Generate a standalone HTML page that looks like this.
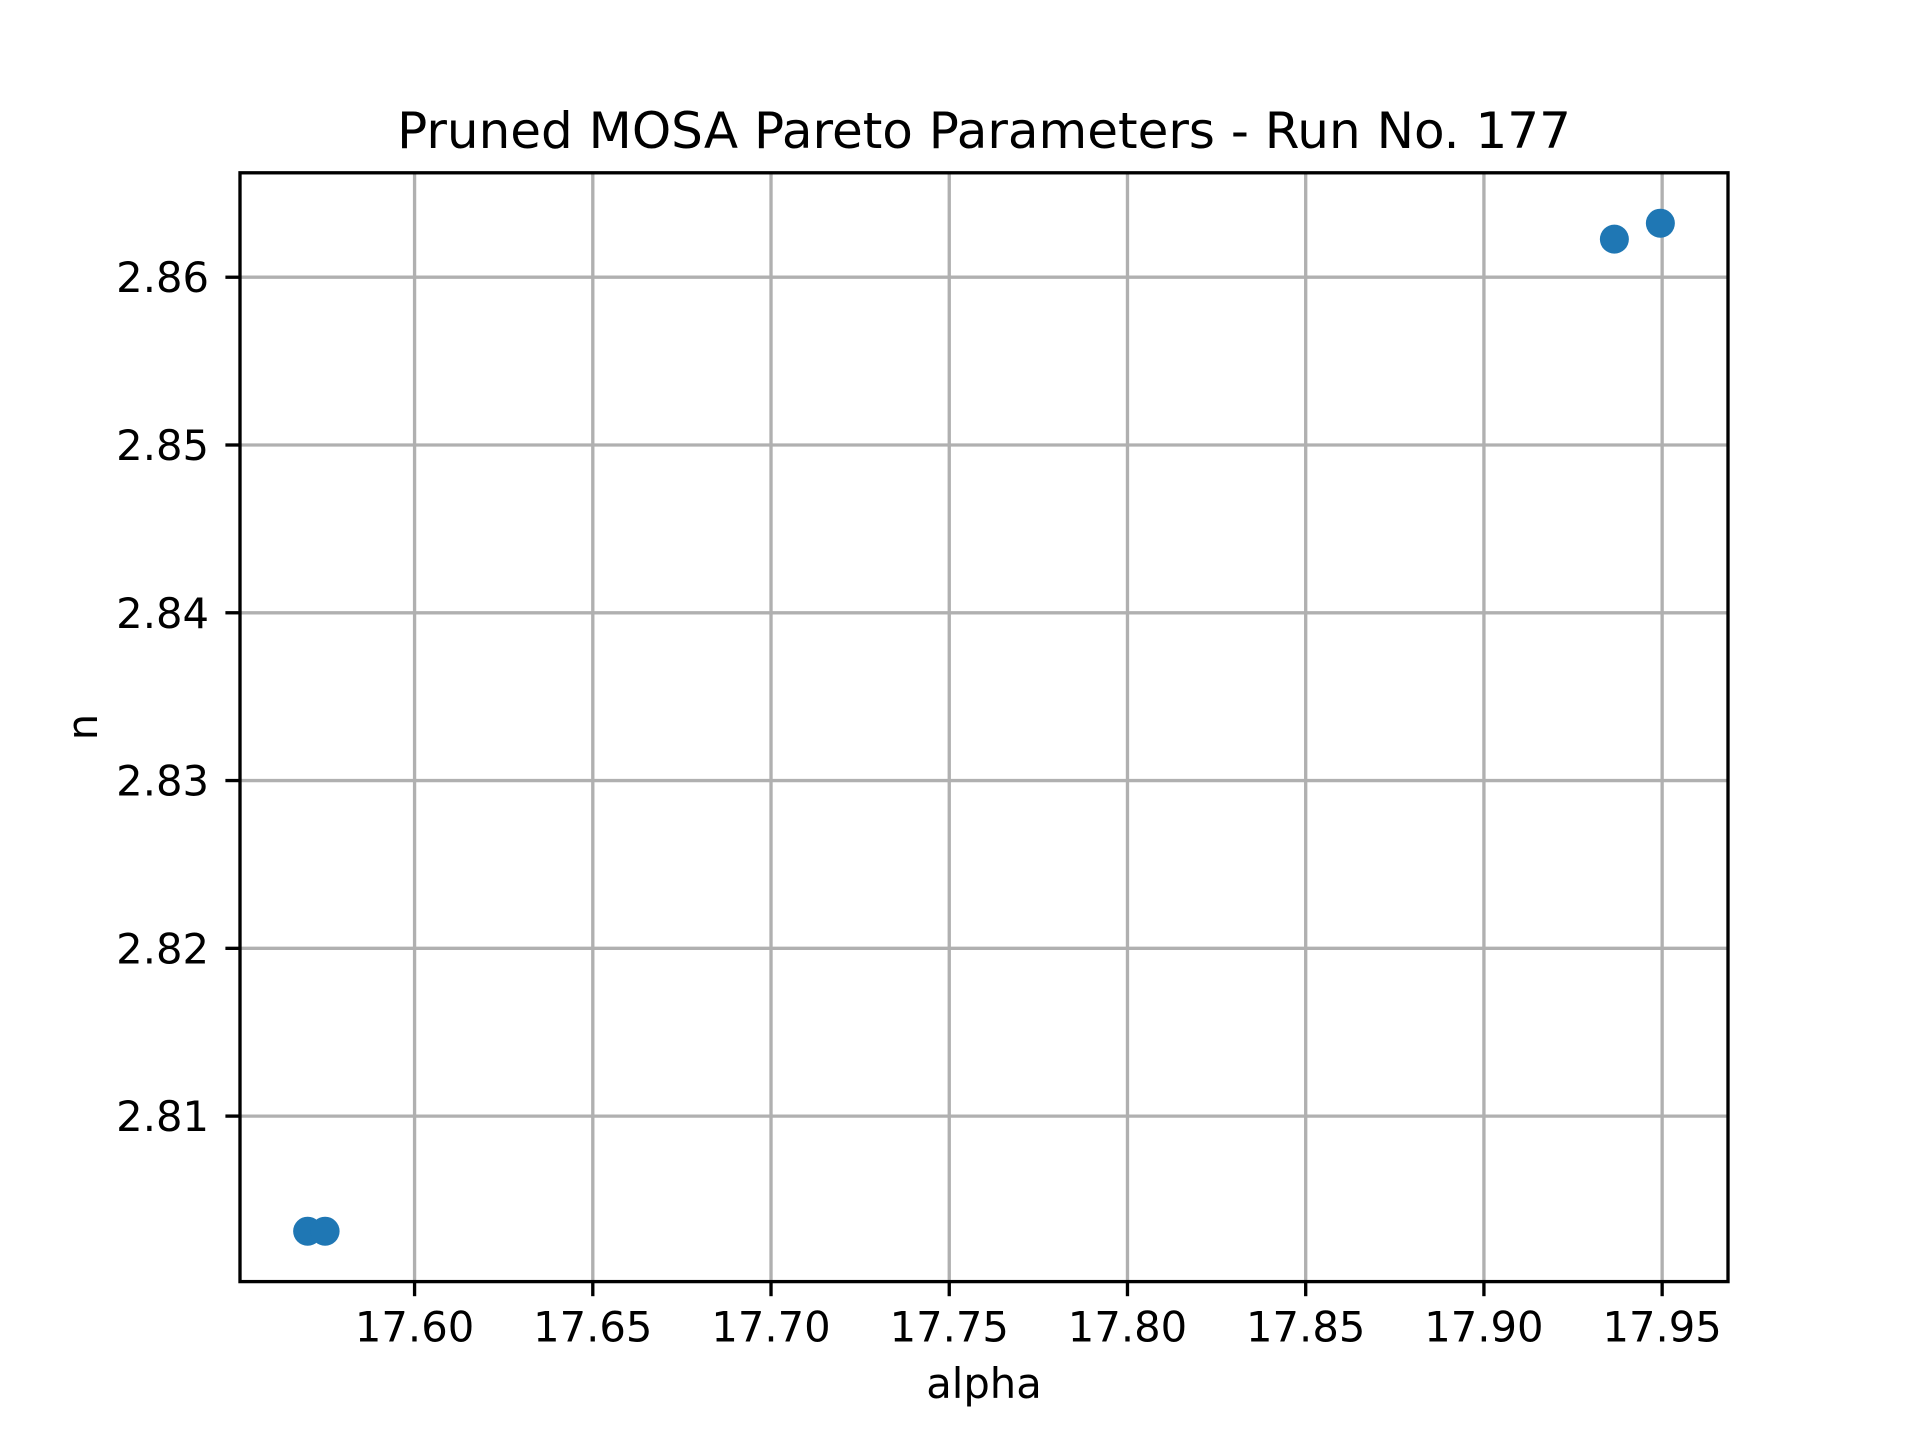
<!DOCTYPE html>
<html><head><meta charset="utf-8"><style>
html,body{margin:0;padding:0;background:#fff;}
svg{display:block;font-family:"DejaVu Sans","Liberation Sans",sans-serif;}
</style></head><body>
<svg id="chart" width="1920" height="1440" xmlns="http://www.w3.org/2000/svg">
<rect width="1920" height="1440" fill="#fff"/>
<g id="grid"></g>
<g id="ticks"></g>
<g id="points"></g>
<rect x="240" y="172.8" width="1488" height="1108.8" fill="none" stroke="#000" stroke-width="3.33"/>
<text x="984" y="148" font-size="50" text-anchor="middle">Pruned MOSA Pareto Parameters - Run No. 177</text>
<text x="984" y="1398" font-size="41.7" text-anchor="middle">alpha</text>
<text x="97" y="727" font-size="41.7" text-anchor="middle" transform="rotate(-90 97 727)">n</text>
</svg>
<script>
const alphaValues = [17.5700, 17.5749, 17.9366, 17.9495];
const nValues = [2.80314, 2.80314, 2.86227, 2.86322];
const xTickValues = [17.60, 17.65, 17.70, 17.75, 17.80, 17.85, 17.90, 17.95];
const yTickValues = [2.81, 2.82, 2.83, 2.84, 2.85, 2.86];

const NS = "http://www.w3.org/2000/svg";
const L = 240, R = 1728, T = 172.8, B = 1281.6;
const xmn0 = Math.min(...alphaValues), xmx0 = Math.max(...alphaValues);
const ymn0 = Math.min(...nValues), ymx0 = Math.max(...nValues);
const xmn = xmn0 - 0.05 * (xmx0 - xmn0), xmx = xmx0 + 0.05 * (xmx0 - xmn0);
const ymn = ymn0 - 0.05 * (ymx0 - ymn0), ymx = ymx0 + 0.05 * (ymx0 - ymn0);
const sx = v => L + (v - xmn) / (xmx - xmn) * (R - L);
const sy = v => B - (v - ymn) / (ymx - ymn) * (B - T);
function mk(tag, attrs, parent) {
  const e = document.createElementNS(NS, tag);
  for (const k in attrs) e.setAttribute(k, attrs[k]);
  parent.appendChild(e);
  return e;
}
const grid = document.getElementById('grid');
const ticks = document.getElementById('ticks');
const pts = document.getElementById('points');
xTickValues.forEach(v => {
  const x = sx(v);
  const g = mk('line', {x1: x, x2: x, y1: T, y2: B, stroke: '#b0b0b0', 'stroke-width': 3.33}, grid);
  
  
  const t = mk('line', {x1: x, x2: x, y1: B, y2: B + 14.6, stroke: '#000', 'stroke-width': 3.33}, ticks);
  
  
  const lb = mk('text', {x: x, y: B + 60, 'font-size': 41.7, 'text-anchor': 'middle'}, ticks);
  lb.textContent = v.toFixed(2);
  
  
});
yTickValues.forEach(v => {
  const y = sy(v);
  const g = mk('line', {x1: L, x2: R, y1: y, y2: y, stroke: '#b0b0b0', 'stroke-width': 3.33}, grid);
  
  
  const t = mk('line', {x1: L - 14.6, x2: L, y1: y, y2: y, stroke: '#000', 'stroke-width': 3.33}, ticks);
  
  
  const lb = mk('text', {x: L - 31, y: y + 15, 'font-size': 41.7, 'text-anchor': 'end'}, ticks);
  lb.textContent = v.toFixed(2);
  
  
});
alphaValues.forEach((a, i) => {
  const c = mk('circle', {cx: sx(a), cy: sy(nValues[i]), r: 14.5, fill: '#1f77b4'}, pts);
  
  
});
</script>
</body></html>
